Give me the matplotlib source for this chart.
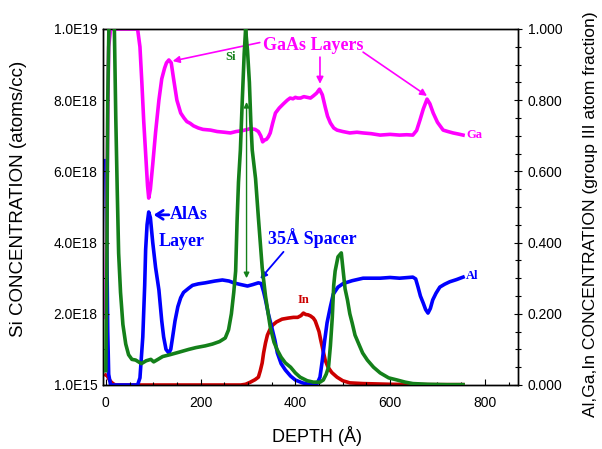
import matplotlib
matplotlib.use("Agg")
import matplotlib.pyplot as plt
from matplotlib.ticker import MultipleLocator

# ---------------- data (depth in Angstrom) ----------------
ga_depth = [0, 2, 4, 6, 10, 67, 72, 76, 80, 84, 88, 90.5, 94, 99, 105, 112, 118, 124, 128, 133,
            138, 143, 150, 158, 165, 171, 178, 185, 195, 205, 221, 235, 250, 263, 275, 290, 305,
            315, 322, 327, 331, 335, 339, 343, 347, 352, 358, 366, 375, 383, 389, 395, 400, 405,
            411, 418, 425, 432, 438, 445, 451, 457, 463, 468, 474, 481, 488, 500, 515, 530, 543,
            560, 579, 600, 620, 635, 648, 656, 663, 670, 678, 684, 691, 700, 712, 722, 733, 744, 754]
ga_frac = [0.19, 0.45, 0.75, 0.95, 1.0, 1.0, 0.95, 0.85, 0.74, 0.65, 0.56, 0.525, 0.55, 0.62, 0.71, 0.80, 0.86, 0.89, 0.905, 0.913,
           0.905, 0.86, 0.80, 0.764, 0.75, 0.74, 0.735, 0.728, 0.722, 0.718, 0.716, 0.712, 0.710, 0.708, 0.712, 0.715, 0.720,
           0.718, 0.712, 0.700, 0.683, 0.688, 0.690, 0.697, 0.708, 0.735, 0.764, 0.778, 0.790, 0.800, 0.806, 0.804, 0.808, 0.806,
           0.806, 0.810, 0.808, 0.806, 0.812, 0.820, 0.831, 0.815, 0.781, 0.755, 0.736, 0.722, 0.716, 0.712, 0.708, 0.710, 0.708,
           0.706, 0.702, 0.704, 0.702, 0.703, 0.702, 0.715, 0.744, 0.775, 0.803, 0.790, 0.764, 0.738, 0.716, 0.712, 0.708, 0.705, 0.702]

al_depth = [0, 2, 4, 6, 10, 30, 60, 67, 72, 78, 82, 84, 87, 90.5, 94, 99, 105, 112, 118, 122, 127, 133,
            137, 141, 146, 152, 158, 164, 175, 183, 195, 210, 230, 246, 260, 270, 282, 299, 310, 322,
            328, 333, 337, 343, 350, 357, 362, 370, 379, 390, 400, 415, 432, 442, 446, 452, 457, 462,
            467, 474, 480, 490, 501, 520, 543, 560, 579, 600, 620, 648, 654, 659, 664, 670, 675, 680,
            685, 690, 697, 705, 715, 726, 740, 754]
al_frac = [0.63, 0.40, 0.15, 0.03, 0.0, 0.0, 0.0, 0.0, 0.02, 0.135, 0.28, 0.38, 0.45, 0.486, 0.47, 0.40, 0.33, 0.267, 0.18, 0.135, 0.10, 0.09,
           0.10, 0.135, 0.18, 0.22, 0.245, 0.26, 0.272, 0.280, 0.284, 0.287, 0.292, 0.295, 0.292, 0.287, 0.283, 0.278, 0.282, 0.287,
           0.285, 0.262, 0.239, 0.200, 0.163, 0.125, 0.09, 0.060, 0.042, 0.025, 0.014, 0.006, 0.001, 0.0, 0.004, 0.022, 0.070, 0.126,
           0.175, 0.22, 0.255, 0.275, 0.285, 0.293, 0.30, 0.300, 0.300, 0.302, 0.300, 0.303, 0.298, 0.275, 0.250, 0.230, 0.212, 0.202,
           0.215, 0.239, 0.258, 0.275, 0.283, 0.29, 0.296, 0.303]

si_depth = [0, 2, 4, 7, 15, 18, 21, 24, 27, 31, 36, 42, 48, 55, 63, 75, 85, 95, 101, 110, 120, 135, 154,
            175, 190, 210, 225, 240, 252, 259, 265, 270, 274, 277, 280, 284, 288, 292, 295, 299, 303,
            306, 309, 316, 322, 330, 337, 347, 355, 362, 370, 379, 390, 400, 410, 425, 438, 452, 459,
            465, 470, 474, 478, 481, 484, 490, 497, 501, 505, 510, 515, 520, 526, 533, 542, 552, 565,
            579, 597, 615, 632, 648, 680, 720, 754]
si_val = [0.4e18, 3.0e18, 8.0e18, 10.5e18, 10.5e18, 10.0e18, 7.5e18, 5.5e18, 3.7e18, 2.6e18, 1.7e18, 1.15e18, 0.85e18, 0.72e18, 0.70e18, 0.60e18, 0.68e18, 0.72e18, 0.65e18, 0.72e18, 0.80e18, 0.85e18, 0.92e18,
          1.00e18, 1.05e18, 1.10e18, 1.15e18, 1.22e18, 1.32e18, 1.55e18, 2.0e18, 2.6e18, 3.2e18, 4.6e18, 5.7e18, 6.6e18, 8.0e18, 9.3e18, 10.0e18, 9.4e18, 8.5e18,
          7.4e18, 6.6e18, 5.8e18, 4.7e18, 3.3e18, 2.5e18, 1.63e18, 1.2e18, 0.98e18, 0.78e18, 0.62e18, 0.50e18, 0.34e18, 0.22e18, 0.12e18, 0.08e18, 0.08e18, 0.14e18,
          0.30e18, 0.5e18, 1.1e18, 1.9e18, 2.8e18, 3.2e18, 3.6e18, 3.71e18, 3.2e18, 2.7e18, 2.39e18, 2.0e18, 1.74e18, 1.40e18, 1.18e18, 0.9e18, 0.7e18, 0.5e18,
          0.34e18, 0.20e18, 0.14e18, 0.08e18, 0.04e18, 0.02e18, 0.01e18, 0.01e18]

in_depth = [0, 3, 6, 10, 15, 20, 100, 200, 270, 285, 295, 305, 315, 322, 326, 330, 333, 337, 341, 346, 352,
            360, 372, 385, 396, 405, 412, 417, 422, 427, 432, 438, 442, 446, 450, 453, 458, 463, 469, 477,
            488, 500, 515, 543, 600, 680, 754]
in_frac = [0.028, 0.026, 0.018, 0.010, 0.004, 0.0, 0.0, 0.0, 0.0, 0.0, 0.002, 0.008, 0.015, 0.022, 0.040, 0.062, 0.090, 0.118, 0.140, 0.155, 0.168,
           0.177, 0.185, 0.188, 0.190, 0.190, 0.195, 0.202, 0.198, 0.197, 0.194, 0.188, 0.180, 0.165, 0.150, 0.130, 0.100, 0.070, 0.050, 0.035,
           0.022, 0.012, 0.006, 0.004, 0.002, 0.001, 0.001]

left_ticks = [0, 2e18, 4e18, 6e18, 8e18, 1e19]
left_labels = ["1.0E15", "2.0E18", "4.0E18", "6.0E18", "8.0E18", "1.0E19"]
right_ticks = [0, 0.2, 0.4, 0.6, 0.8, 1.0]
right_labels = ["0.000", "0.200", "0.400", "0.600", "0.800", "1.000"]
x_ticks = [0, 200, 400, 600, 800]

# ---------------- figure ----------------
plt.rcParams['font.family'] = ['Liberation Sans', 'DejaVu Sans']
fig = plt.figure(figsize=(6.02, 4.49), dpi=100)
ax = fig.add_axes([103/602, 1-385/449, (518-103)/602, (385-29)/449])
ax2 = ax.twinx()

GREEN = "#14801a"
MAG = "#ff00ff"
BLUE = "#0000ff"
RED = "#cc0000"

ax.plot(si_depth, si_val, color=GREEN, lw=2.6, zorder=3)
ax2.plot(in_depth, in_frac, color=RED, lw=2.6, zorder=2)
ax2.plot(al_depth, al_frac, color=BLUE, lw=2.6, zorder=3)
ax2.plot(ga_depth, ga_frac, color=MAG, lw=2.6, zorder=4)

ax.set_xlim(-6, 870)
ax.set_ylim(0, 1e19)
ax2.set_ylim(0, 1.0)

ax.set_zorder(ax2.get_zorder() + 1)
ax.patch.set_visible(False)

ax.set_yticks(left_ticks)
ax.set_yticklabels(left_labels)
ax.yaxis.set_minor_locator(MultipleLocator(1e18))
ax.set_xticks(x_ticks)
ax.xaxis.set_minor_locator(MultipleLocator(50))
ax.tick_params(axis='both', which='both', direction='in', labelsize=10, width=0.8)
ax.tick_params(axis='y', which='major', length=4, pad=4)
ax.tick_params(axis='y', which='minor', length=2.5)
ax.tick_params(axis='x', which='major', length=4, pad=8)
ax.tick_params(axis='x', which='minor', length=2.5)

ax2.set_yticks(right_ticks)
ax2.set_yticklabels(right_labels)
ax2.yaxis.set_minor_locator(MultipleLocator(0.05))
ax2.tick_params(axis='y', which='both', direction='inout', labelsize=10, width=0.8, pad=4)
ax2.tick_params(axis='y', which='major', length=6)
ax2.tick_params(axis='y', which='minor', length=4)

for a in (ax, ax2):
    for s in a.spines.values():
        s.set_linewidth(1.0)
        s.set_color('black')

fig.text(317/602, 1-436/449, "DEPTH (Å)", fontsize=13, ha='center', va='center')
fig.text(19/602, 1-199/449, "Si CONCENTRATION (atoms/cc)", fontsize=13.5,
         rotation=90, ha='center', va='center')
fig.text(591/602, 1-214/449, "Al,Ga,In CONCENTRATION (group III atom fraction)", fontsize=12.6,
         rotation=90, ha='center', va='center')

serif = ['Liberation Serif', 'DejaVu Serif']
# annotations (on fraction axis)
ax2.text(438, 0.954, "GaAs Layers", color=MAG, fontsize=13, fontweight='bold', family=serif,
         ha='center', va='center', zorder=6)
ap = dict(arrowstyle='-|>', color=MAG, lw=1.2, mutation_scale=10, shrinkA=0, shrinkB=0)
ax2.annotate("", xy=(141, 0.910), xytext=(325, 0.962), arrowprops=ap, zorder=6)
ax2.annotate("", xy=(452, 0.846), xytext=(452, 0.921), arrowprops=ap, zorder=6)
ax2.annotate("", xy=(678, 0.812), xytext=(543, 0.935), arrowprops=ap, zorder=6)

ax2.text(263, 0.921, "Si", color=GREEN, fontsize=9, fontweight='bold', family=serif,
         ha='center', va='center', zorder=6)
ax2.annotate("", xy=(297, 0.795), xytext=(297, 0.30),
             arrowprops=dict(arrowstyle='<|-|>', color=GREEN, lw=1.0, mutation_scale=8,
                             shrinkA=0, shrinkB=0), zorder=6)

ax2.annotate("", xy=(101, 0.478), xytext=(133, 0.478),
             arrowprops=dict(arrowstyle='->,head_length=0.5,head_width=0.32', color=BLUE, lw=2.0,
                             shrinkA=0, shrinkB=0), zorder=6)
ax2.text(136, 0.478, "AlAs", color=BLUE, fontsize=13, fontweight='bold', family=serif,
         ha='left', va='center', zorder=6)
ax2.text(112, 0.404, "Layer", color=BLUE, fontsize=13, fontweight='bold', family=serif,
         ha='left', va='center', zorder=6)
ax2.text(342, 0.413, "35Å Spacer", color=BLUE, fontsize=13, fontweight='bold', family=serif,
         ha='left', va='center', zorder=6)
ax2.annotate("", xy=(326, 0.298), xytext=(375, 0.374),
             arrowprops=dict(arrowstyle='-|>', color=BLUE, lw=1.3, mutation_scale=10,
                             shrinkA=0, shrinkB=0), zorder=6)

ax2.text(417, 0.240, "In", color=RED, fontsize=9, fontweight='bold', family=serif,
         ha='center', va='center', zorder=6)
ax2.text(760, 0.305, "Al", color=BLUE, fontsize=9, fontweight='bold', family=serif,
         ha='left', va='center', zorder=6)
ax2.text(762, 0.702, "Ga", color=MAG, fontsize=9, fontweight='bold', family=serif,
         ha='left', va='center', zorder=6)

fig.savefig("out.png", dpi=100)
